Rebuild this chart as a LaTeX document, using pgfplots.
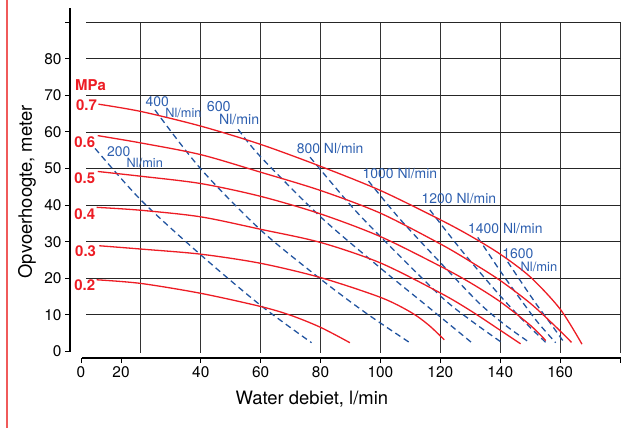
\documentclass[border=0pt]{standalone}
\usepackage{pgfplots}
\pgfplotsset{compat=1.18}
\usepackage{fontspec}
\setmainfont{TeX Gyre Heros}
\definecolor{cred}{RGB}{237,28,36}
\definecolor{cblue}{RGB}{34,84,160}
\definecolor{lblue}{RGB}{45,95,175}
\definecolor{frame}{RGB}{240,90,90}
\begin{document}
\begin{tikzpicture}
\begin{axis}[
  scale only axis, width=551.1bp, height=350.4bp,
  xmin=-3.67, xmax=180.33, ymin=-1.75, ymax=94,
  clip=false,
  axis line style={draw=none},
  tick align=outside, major tick length=5bp,
  tick style={black, line width=1bp},
  xtick pos=bottom, ytick pos=left,
  xtick={0,13.36,40,60,80,100,120,140,160,180},
  xticklabels={0,20,40,60,80,100,120,140,160,{}},
  ytick={0,10,20,30,40,50,60,70,80,90},
  yticklabels={0,10,20,30,40,50,60,70,80,{}},
  tick label style={font=\fontsize{15.5}{18}\selectfont},
  /pgf/number format/assume math mode=true,
]
% grid
\pgfplotsinvokeforeach{20,40,60,80,100,120,140,160,180}{\draw[black!80, line width=0.9bp] (axis cs:#1,-0.3) -- (axis cs:#1,90);}
\pgfplotsinvokeforeach{10,20,30,40,50,60,70,80,90}{\draw[black!85, line width=0.9bp] (axis cs:1.7,#1) -- (axis cs:180.33,#1);}
% axis lines
\draw[black, line width=1.3bp] (axis cs:-3.67,-0.1) -- (axis cs:-3.67,94);
\draw[black, line width=1.3bp] (axis cs:0.33,-1.75) -- (axis cs:180.33,-1.75);

% blue dashed air consumption lines (Nl/min)
\addplot[cblue, line width=1.3bp, dash pattern=on 6bp off 4bp, smooth] coordinates {(4.7,55.5) (20,41.4) (40,26.4) (60,12.6) (77,2.4)};
\addplot[cblue, line width=1.3bp, dash pattern=on 6bp off 4bp, smooth] coordinates {(24.7,66) (40,49.9) (60,33.2) (80,19.8) (95,10.6) (109.8,2.4)};
\addplot[cblue, line width=1.3bp, dash pattern=on 6bp off 4bp, smooth] coordinates {(52.5,60.7) (60,53.2) (80,36.8) (100,22.8) (115,12.8) (130.5,2.4)};
\addplot[cblue, line width=1.3bp, dash pattern=on 6bp off 4bp, smooth] coordinates {(76.5,53.1) (90,40) (100,31.4) (120,15.2) (130,8.6) (140.6,2.4)};
\addplot[cblue, line width=1.3bp, dash pattern=on 6bp off 4bp, smooth] coordinates {(96,46.6) (106.5,36.2) (120,24.3) (133,13.2) (142,7) (149.9,2.4)};
\addplot[cblue, line width=1.3bp, dash pattern=on 6bp off 4bp, smooth] coordinates {(116.5,38.7) (127.7,27) (140,15.2) (148,8.2) (155.3,2.4)};
\addplot[cblue, line width=1.3bp, dash pattern=on 6bp off 4bp, smooth] coordinates {(132.5,31.2) (140,22) (147,14) (152.5,8) (158.5,2.4)};
\addplot[cblue, line width=1.3bp, dash pattern=on 6bp off 4bp, smooth] coordinates {(142.5,24.5) (147,19) (152,13) (156.5,8) (161.4,2.4)};

% red pressure curves (MPa)
\addplot[cred, line width=1.3bp, smooth] coordinates {(5.8,67.6) (20,65.6) (40,61.6) (60,56.6) (80,50.6) (100,44.0) (120,36.0) (130,31.6) (140,26.6) (150,20.4) (160,11.6) (167.3,2.0)};
\addplot[cred, line width=1.3bp, smooth] coordinates {(5.6,59) (20,57) (40,53.8) (60,49) (80,44) (100,37.8) (120,29.4) (130,24.6) (140,19.4) (150,13.2) (158,7.2) (163.8,2.5)};
\addplot[cred, line width=1.3bp, smooth] coordinates {(5.6,49.2) (20,47.9) (40,45.9) (60,42.4) (80,37.6) (100,31.4) (120,23.3) (130,18.8) (140,13.6) (150,7.2) (155.2,3.0)};
\addplot[cred, line width=1.3bp, smooth] coordinates {(5.2,39.4) (20,38.6) (40,36.8) (60,33.4) (80,29.8) (100,24.2) (120,16) (130,11.2) (140,5.8) (146.8,2.1)};
\addplot[cred, line width=1.3bp, smooth] coordinates {(6.1,28.9) (20,28.0) (40,26.6) (60,24.1) (80,20.2) (100,14.8) (110,10.8) (116,7.3) (121.3,3.2)};
\addplot[cred, line width=1.3bp, smooth] coordinates {(5.2,19.6) (20,18.6) (40,15.9) (60,12.3) (70,9.9) (80,6.6) (89.8,2.4)};

% red labels
\begin{scope}[every node/.style={text=cred, font=\bfseries\fontsize{15}{18}\selectfont, anchor=west, inner sep=0pt}]
\node at (axis cs:-2.0,72.8) {MPa};
\node at (axis cs:-1.7,67.4) {0.7};
\node at (axis cs:-2.3,57.3) {0.6};
\node at (axis cs:-2.3,47.4) {0.5};
\node at (axis cs:-2.3,37.5) {0.4};
\node at (axis cs:-2.0,27.5) {0.3};
\node at (axis cs:-2.3,18.2) {0.2};
\end{scope}
% blue labels
\begin{scope}[every node/.style={text=lblue, font=\fontsize{14}{16}\selectfont, anchor=center, inner sep=0pt}]
\node at (axis cs:12.6,54.5) {200};
\node[font=\fontsize{12.8}{15}\selectfont] at (axis cs:21.3,51.5) {Nl/min};
\node at (axis cs:25.5,68.2) {400};
\node[font=\fontsize{12.8}{15}\selectfont] at (axis cs:34.2,65.1) {Nl/min};
\node[font=\fontsize{14.4}{16}\selectfont] at (axis cs:46,66.9) {600};
\node[font=\fontsize{14.2}{16}\selectfont] at (axis cs:52.8,63.5) {Nl/min};
\node at (axis cs:83.2,55.6) {800 Nl/min};
\node at (axis cs:106.5,48.5) {1000 Nl/min};
\node at (axis cs:126.2,41.7) {1200 Nl/min};
\node at (axis cs:141.7,33.7) {1400 Nl/min};
\node at (axis cs:145.9,26.8) {1600};
\node[font=\fontsize{13}{15}\selectfont] at (axis cs:152.9,23.1) {Nl/min};
\end{scope}
% axis labels
\node[font=\fontsize{18.5}{21}\selectfont, anchor=base] at (axis cs:77.1,-14.6) {Water debiet, l/min};
\node[font=\fontsize{18.5}{21}\selectfont, rotate=90] at (axis cs:-18,43.6) {Opvoerhoogte, meter};
% page frame line
\draw[frame, line width=1.3bp] (axis cs:-24.7,96.07) -- (axis cs:-24.7,-20.87);
\coordinate (bbl) at (axis cs:-27.05,-20.87);
\coordinate (btr) at (axis cs:180.33,96.07);
\end{axis}
\pgfresetboundingbox
\path[use as bounding box] (bbl) rectangle (btr);
\end{tikzpicture}
\end{document}
